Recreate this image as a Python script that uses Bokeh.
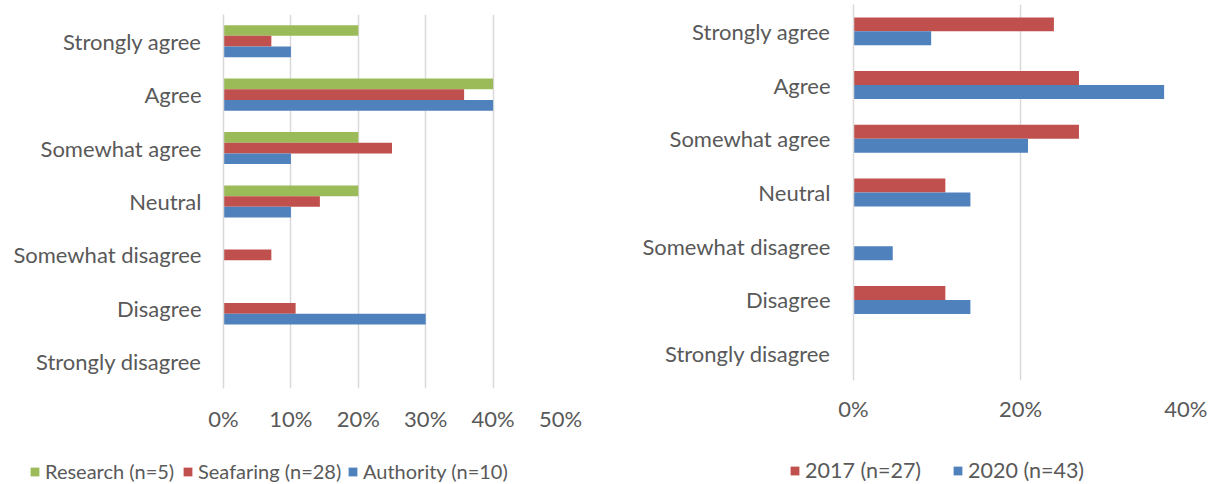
from bokeh.plotting import figure
from bokeh.models import (Range1d, FactorRange, PrintfTickFormatter, FixedTicker,
                          Legend, LegendItem, ColumnDataSource)
from bokeh.transform import dodge
from bokeh.layouts import row, column
from bokeh.embed import file_html
from bokeh.resources import INLINE

# ---------------- data ----------------
categories = ["Strongly agree", "Agree", "Somewhat agree", "Neutral",
              "Somewhat disagree", "Disagree", "Strongly disagree"]

left_labels = ["Research (n=5)", "Seafaring (n=28)", "Authority (n=10)"]
research = [20, 40, 20, 20, 0, 0, 0]
seafaring = [7.1, 35.7, 25.0, 14.3, 7.1, 10.7, 0]
authority = [10, 40, 10, 10, 0, 30, 0]
left_ticks = [0, 10, 20, 30, 40, 50]

right_labels = ["2017 (n=27)", "2020 (n=43)"]
y2017 = [24, 27, 27, 11, 0, 11, 0]
y2020 = [9.3, 37.2, 20.9, 14.0, 4.7, 14.0, 0]
right_ticks = [0, 20, 40]

# ---------------- style ----------------
FONT = "Lato"
TXT = "#595959"
GRID = "#D9D9D9"
GREEN, RED, BLUE = "#9BBB59", "#C0504D", "#4F81BD"
FS = "22px"


def base_fig(fw, fh, xmax, ticks, bl, br, bt, bb, xstand, ystand):
    p = figure(frame_width=fw, frame_height=fh, output_backend="svg", toolbar_location=None,
               y_range=FactorRange(factors=list(reversed(categories))),
               x_range=Range1d(0, xmax),
               min_border_left=bl, min_border_right=br,
               min_border_top=bt, min_border_bottom=bb)
    p.outline_line_color = None
    p.background_fill_color = "white"
    p.border_fill_color = "white"
    p.ygrid.grid_line_color = None
    p.xgrid.grid_line_color = GRID
    p.xgrid.grid_line_width = 1.5
    p.xgrid.ticker = FixedTicker(ticks=ticks)
    p.xaxis.ticker = FixedTicker(ticks=ticks)
    p.xaxis.formatter = PrintfTickFormatter(format="%d%%")
    p.xaxis.axis_line_color = None
    p.yaxis.axis_line_color = GRID
    p.yaxis.axis_line_width = 1.5
    for ax in (p.xaxis, p.yaxis):
        ax.major_tick_line_color = None
        ax.minor_tick_line_color = None
        ax.major_tick_out = 0
        ax.major_tick_in = 0
        ax.major_label_text_font = FONT
        ax.major_label_text_font_size = FS
        ax.major_label_text_color = TXT
    p.xaxis.major_label_standoff = xstand
    p.yaxis.major_label_standoff = ystand
    return p


def legend_fig(width, height, labels, colors, xs, fs):
    lf = figure(width=width, height=height, output_backend="svg", toolbar_location=None,
                x_range=Range1d(0, 1), y_range=Range1d(0, 1),
                x_axis_location=None, y_axis_location=None,
                min_border=0)
    lf.outline_line_color = None
    lf.grid.grid_line_color = None
    for lab, col, x in zip(labels, colors, xs):
        # zero-size proxy glyph, used only to give the legend entry its swatch colour
        r = lf.hbar(y=[0.5], left=[0], right=[0], height=0, fill_color=col, line_color=None)
        lg = Legend(items=[LegendItem(label=lab, renderers=[r])], location=(x, 0),
                    orientation="horizontal",
                    glyph_width=11, glyph_height=11, label_standoff=5, spacing=0,
                    padding=0, margin=0, border_line_color=None, background_fill_alpha=0,
                    label_text_font=FONT, label_text_font_size=fs, label_text_color=TXT,
                    label_height=20)
        lf.add_layout(lg)
    return lf


# ---------------- left chart ----------------
lsrc = ColumnDataSource(dict(cat=categories, research=research,
                             seafaring=seafaring, authority=authority))
p1 = base_fig(337, 374, 50, left_ticks, 223, 40, 14, 62, 16, 22)
p1.hbar(y=dodge("cat", 0.2, range=p1.y_range), left=0, right="research", height=0.2,
        source=lsrc, fill_color=GREEN, line_color=None)
p1.hbar(y=dodge("cat", 0.0, range=p1.y_range), left=0, right="seafaring", height=0.2,
        source=lsrc, fill_color=RED, line_color=None)
p1.hbar(y=dodge("cat", -0.2, range=p1.y_range), left=0, right="authority", height=0.2,
        source=lsrc, fill_color=BLUE, line_color=None)

# ---------------- right chart ----------------
rsrc = ColumnDataSource(dict(cat=categories, y2017=y2017, y2020=y2020))
p2 = base_fig(334, 376, 40, right_ticks, 253, 20, 4, 70, 14, 23)
p2.hbar(y=dodge("cat", 0.13, range=p2.y_range), left=0, right="y2017", height=0.26,
        source=rsrc, fill_color=RED, line_color=None)
p2.hbar(y=dodge("cat", -0.13, range=p2.y_range), left=0, right="y2020", height=0.26,
        source=rsrc, fill_color=BLUE, line_color=None)

# ---------------- legends ----------------
l1 = legend_fig(600, 33, left_labels, [GREEN, RED, BLUE], [29, 182, 347], "20px")
l2 = legend_fig(607, 33, right_labels, [RED, BLUE], [189, 352], "21.5px")

layout = row(column(p1, row(l1)), column(p2, row(l2)))
open("out.html", "w").write(file_html(layout, INLINE))
